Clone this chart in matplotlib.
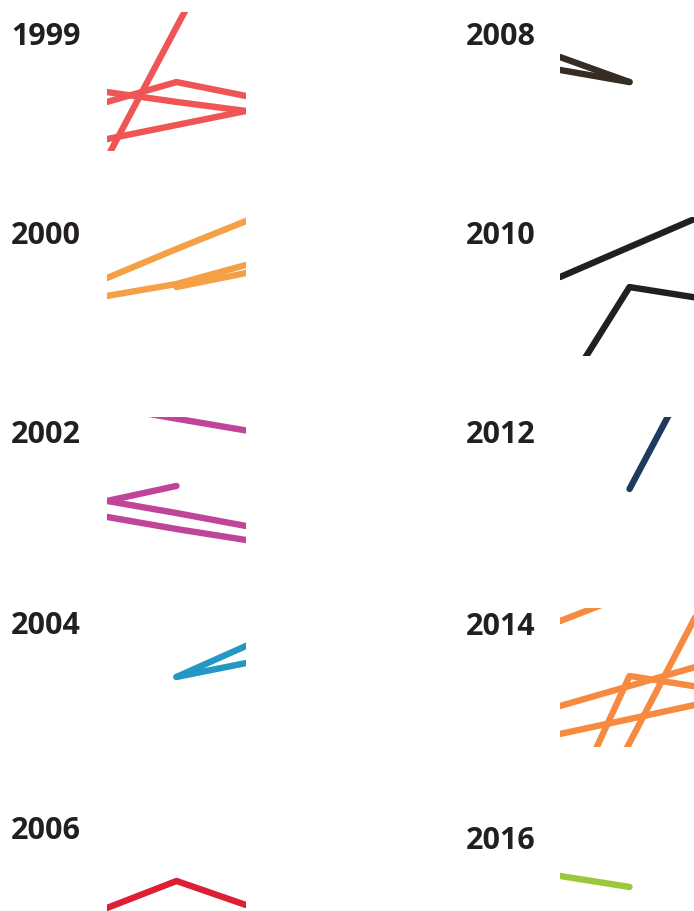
import matplotlib.pyplot as plt
import numpy as np

W, H = 694, 912

# each panel: year, colour, series values at three time points (nan = no value)
years = ['1999', '2000', '2002', '2004', '2006',
         '2008', '2010', '2012', '2014', '2016']
colors = ['#F05555', '#F5A045', '#C0459A', '#2398C4', '#DC1F33',
          '#352C22', '#231F20', '#1F3A5F', '#F58A40', '#9AC83A']
nan = np.nan
series = {
    '1999': [[-5.0, 89.2, 182.0], [35.3, 49.6, 39.6], [42.4, 35.3, 28.8], [8.6, 18.7, 28.8]],
    '2000': [[56.1, 77.0, 97.1], [43.2, 51.8, 65.5], [nan, 49.6, 59.7]],
    '2002': [[107.5, 98.8, 90.3], [39.6, 50.4, nan], [39.6, 30.9, 21.6], [28.1, 19.4, 11.5]],
    '2004': [[nan, 50.4, 72.7], [nan, 50.4, 60.4]],
    '2006': [[31.7, 51.1, 33.8]],
    '2008': [[67.6, 49.6, nan], [58.3, 49.6, nan]],
    '2010': [[56.8, 78.4, 100.0], [-30.2, 49.6, 41.7]],
    '2012': [[nan, 48.2, 142.4]],
    '2014': [[90.6, 110.0, 129.5], [29.5, 43.9, 58.3], [-57.6, 51.1, 43.2],
             [9.4, 20.1, 30.9], [-91.4, 2.9, 98.6]],
    '2016': [[61.9, 54.0, nan]],
}

# layout in pixels: panel left, panel top, label x, label baseline
panel_left = [107] * 5 + [560] * 5
panel_top = [13, 218, 418, 609, 814, 13, 218, 418, 609, 824]
label_x = [11] * 5 + [466] * 5
label_base = [45, 244, 443, 634, 839, 45, 244, 443, 635, 849]
pw, ph = 139, 139

fig = plt.figure(figsize=(W / 100, H / 100), dpi=100)

for i, yr in enumerate(years):
    ax = fig.add_axes([panel_left[i] / W, 1 - (panel_top[i] + ph) / H, pw / W, ph / H])
    for vals in series[yr]:
        ax.plot([0, 1, 2], vals, color=colors[i], lw=4.6,
                solid_capstyle='round', solid_joinstyle='round')
    ax.set_xlim(0, 2)
    ax.set_ylim(0, 100)
    ax.axis('off')
    fig.text(label_x[i] / W, 1 - label_base[i] / H, yr, ha='left', va='baseline',
             fontsize=22, fontweight='bold', family='Open Sans', color='#231F20')

plt.savefig('out.png', dpi=100)
